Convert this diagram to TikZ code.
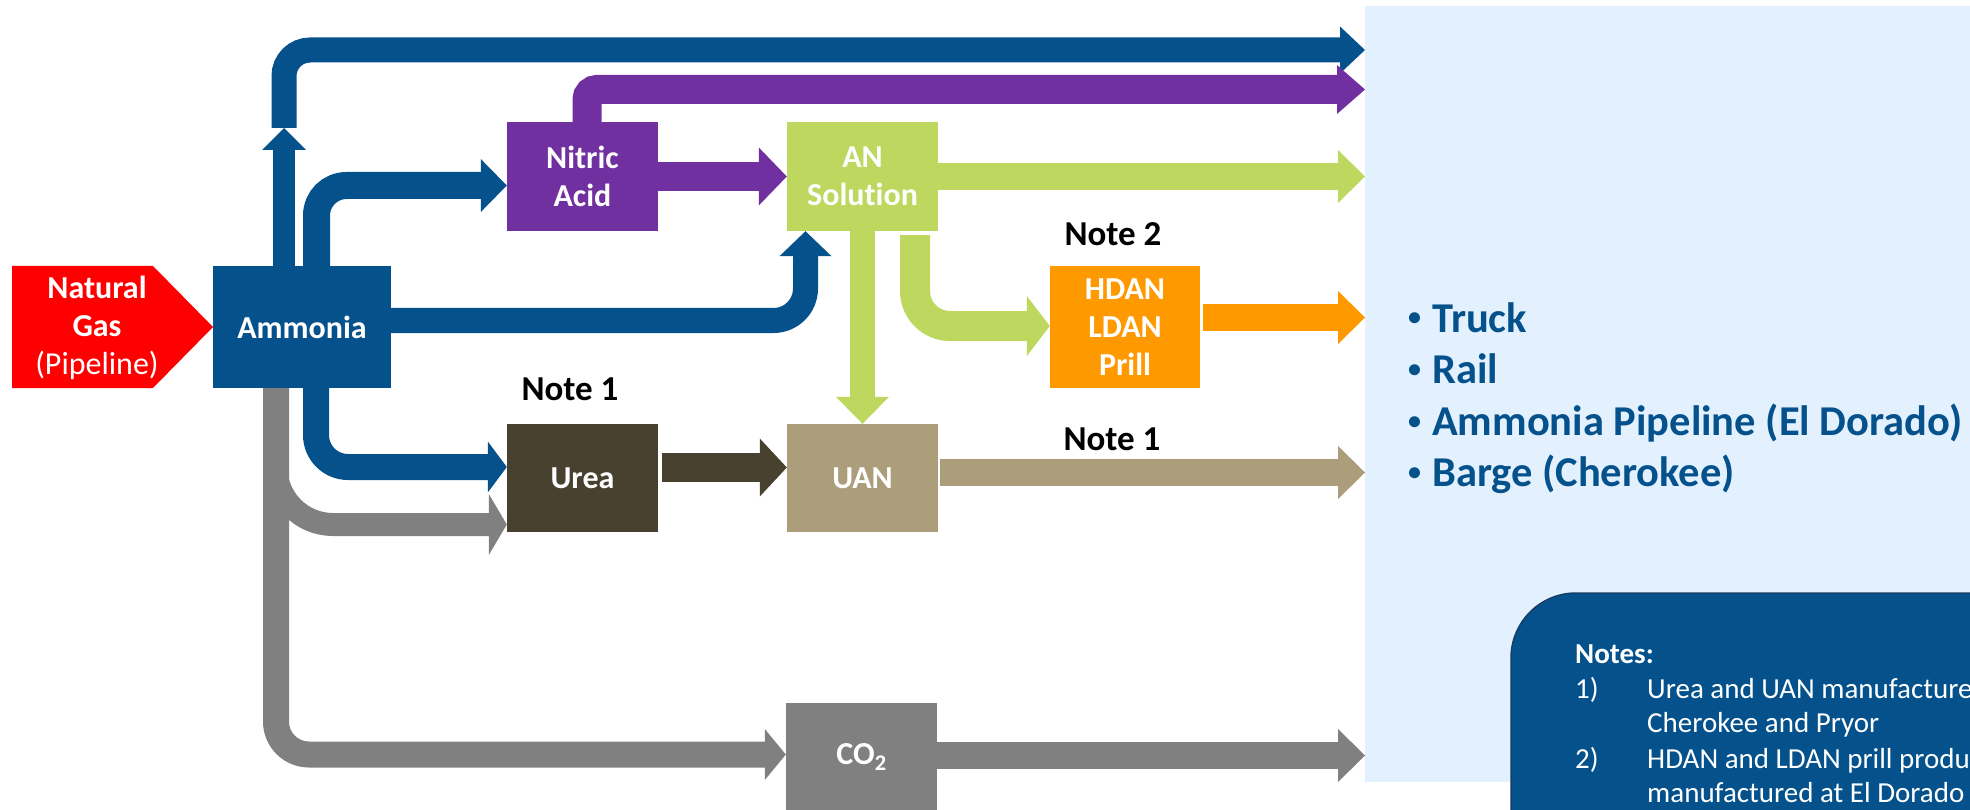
\documentclass[tikz,border=0pt]{standalone}
\usepackage{fontspec}
\setmainfont{Carlito}[Ligatures=NoCommon]
\usetikzlibrary{arrows.meta,calc}
\definecolor{ablue}{RGB}{4,81,140}
\definecolor{apurple}{RGB}{112,48,160}
\definecolor{agreen}{RGB}{190,215,95}
\definecolor{aorange}{RGB}{255,153,0}
\definecolor{aurea}{RGB}{73,65,48}
\definecolor{auan}{RGB}{172,158,122}
\definecolor{agray}{RGB}{128,128,128}
\definecolor{ared}{RGB}{255,0,0}
\definecolor{apanel}{RGB}{227,240,253}
\definecolor{anotes}{RGB}{4,81,140}
\definecolor{anotesedge}{RGB}{22,62,105}
\newcommand{\mybul}{\makebox[24pt][l]{\raisebox{6pt}{\fontsize{26}{26}\selectfont •}}}
\begin{document}
\begin{tikzpicture}[x=1pt,y=-1pt,
  box/.style={minimum width=151pt, minimum height=109pt, inner sep=0pt, text=white, align=center, font=\bfseries\fontsize{32}{38}\selectfont},
  flow/.style n args={4}{draw=#1, line width=#2pt, -{Triangle[width=#3pt,length=#4pt,line width=0pt]}},
  notelbl/.style={font=\bfseries\fontsize{35}{40}\selectfont, text=black, inner sep=0pt},
  bulletitem/.style={anchor=base west, inner sep=0pt, text=ablue, font=\bfseries\fontsize{42.5}{50}\selectfont},
  ntext/.style={anchor=base west, inner sep=0pt, text=white, font=\fontsize{29}{34}\selectfont},
]
\useasboundingbox (0,0) rectangle (1970,810);
\begin{scope}
  \clip (0,0) rectangle (1970,810);
  \node[fill=apanel, minimum width=620pt, minimum height=776pt, anchor=north west, inner sep=0pt] (panel) at (1365,6) {};
  \fill[anotes, draw=anotesedge, line width=1.5pt, rounded corners=65pt] (1511,593) rectangle (2100,1000);
  \node[ntext, font=\bfseries\fontsize{29}{34}\selectfont] (nh) at (1575,663) {Notes:};
  \node[ntext] (n1n) at (1575,698) {1)};
  \node[ntext] (n1t) at (1647,698) {Urea and UAN manufacture};
  \node[ntext] (n1c) at (1647,732) {Cherokee and Pryor};
  \node[ntext] (n2n) at (1575,768) {2)};
  \node[ntext] (n2t) at (1647,768) {HDAN and LDAN prill produ};
  \node[ntext] (n2c) at (1647,802) {manufactured at El Dorado};
\end{scope}

% natural gas
\fill[ared] (12,266) -- (153,266) -- (213,327) -- (153,388) -- (12,388) -- cycle;
\node[text=white, align=center, inner sep=0pt, font=\fontsize{32}{38}\selectfont] (ng) at (97,328) {\textbf{Natural}\\\textbf{Gas}\\(Pipeline)};

% boxes
\node[box, fill=ablue, minimum width=178pt, minimum height=122pt] (amm) at (302,327) {Ammonia};
\node[box, fill=apurple] (nitric) at (582.5,176.5) {Nitric\\Acid};
\node[box, fill=agreen] (an) at (862.5,176.5) {AN\\Solution};
\node[box, fill=aorange, minimum width=150pt, minimum height=122pt] (hdan) at (1125,327) {HDAN\\LDAN\\Prill};
\node[box, fill=aurea, minimum height=108pt] (urea) at (582.5,478) {Urea};
\node[box, fill=auan, minimum height=108pt] (uan) at (862.5,478) {UAN};
\node[box, fill=agray, minimum height=108pt] (co2) at (861.5,757) {CO\textsubscript{2}};

% labels
\node[notelbl] (n1a) at (570,389) {Note 1};
\node[notelbl] (n2) at (1113,234) {Note 2};
\node[notelbl] (n1b) at (1112,439) {Note 1};

% bullets
\node[bulletitem] (b1) at (1408,332) {\mybul Truck};
\node[bulletitem] (b2) at (1408,383) {\mybul Rail};
\node[bulletitem] (b3) at (1408,435) {\mybul Ammonia Pipeline (El Dorado)};
\node[bulletitem] (b4) at (1408,486) {\mybul Barge (Cherokee)};

% arrows
\coordinate (sp) at (284,128);
\draw[flow={ablue}{22}{44}{22}] ([xshift=-18pt]amm.north) -- (sp);
\draw[flow={ablue}{25}{47}{25}, rounded corners=26pt] (sp) |- ($(panel.north west)+(0,44)$);
\draw[flow={apurple}{29}{49}{28}, rounded corners=10pt] ([xshift=4.5pt]nitric.north) |- ($(panel.north west)+(0,83.5)$);
\draw[flow={ablue}{27}{53}{26}, rounded corners=30pt] ([xshift=14.5pt]amm.north) |- ([yshift=-9pt]nitric.west);
\draw[flow={ablue}{25}{52}{25}, rounded corners=32pt] ([yshift=6.5pt]amm.east) -| ([xshift=-57pt]an.south);
\draw[flow={apurple}{29}{58}{28}] (nitric.east) -- (an.west);
\draw[flow={agreen}{27}{53}{27}] (an.east) -- (an.east -| panel.west);
\draw[flow={agreen}{25}{53}{27}] (an.south) -- (uan.north);
\draw[flow={agreen}{30}{60}{23}, rounded corners=35pt] ([xshift=52.5pt,yshift=-4pt]an.south) |- ([yshift=1pt]hdan.west);
\coordinate (o1) at ([xshift=3pt,yshift=9.5pt]hdan.east);
\draw[flow={aorange}{27}{53}{27}] (o1) -- (o1 -| panel.west);
\draw[flow={ablue}{26}{51}{19}, rounded corners=32pt] ([xshift=14pt]amm.south) |- ([yshift=11pt]urea.west);
\draw[flow={agray}{26}{51}{21}, rounded corners=33pt] ([xshift=-26pt]amm.south) |- ([yshift=2.5pt]co2.west);
\draw[flow={agray}{23}{61}{18}, rounded corners=57pt] ([xshift=-26pt]amm.south) |- ([yshift=-46.5pt]urea.west);
\draw[flow={aurea}{29}{58}{27}] ([xshift=4pt,yshift=10.5pt]urea.east) -- ([yshift=10.5pt]uan.west);
\coordinate (u1) at ([xshift=2pt,yshift=5.5pt]uan.east);
\draw[flow={auan}{27}{53}{27}] (u1) -- (u1 -| panel.west);
\coordinate (c1) at ([yshift=1.5pt]co2.east);
\draw[flow={agray}{27}{53}{27}] (c1) -- (c1 -| panel.west);
\end{tikzpicture}
\end{document}
